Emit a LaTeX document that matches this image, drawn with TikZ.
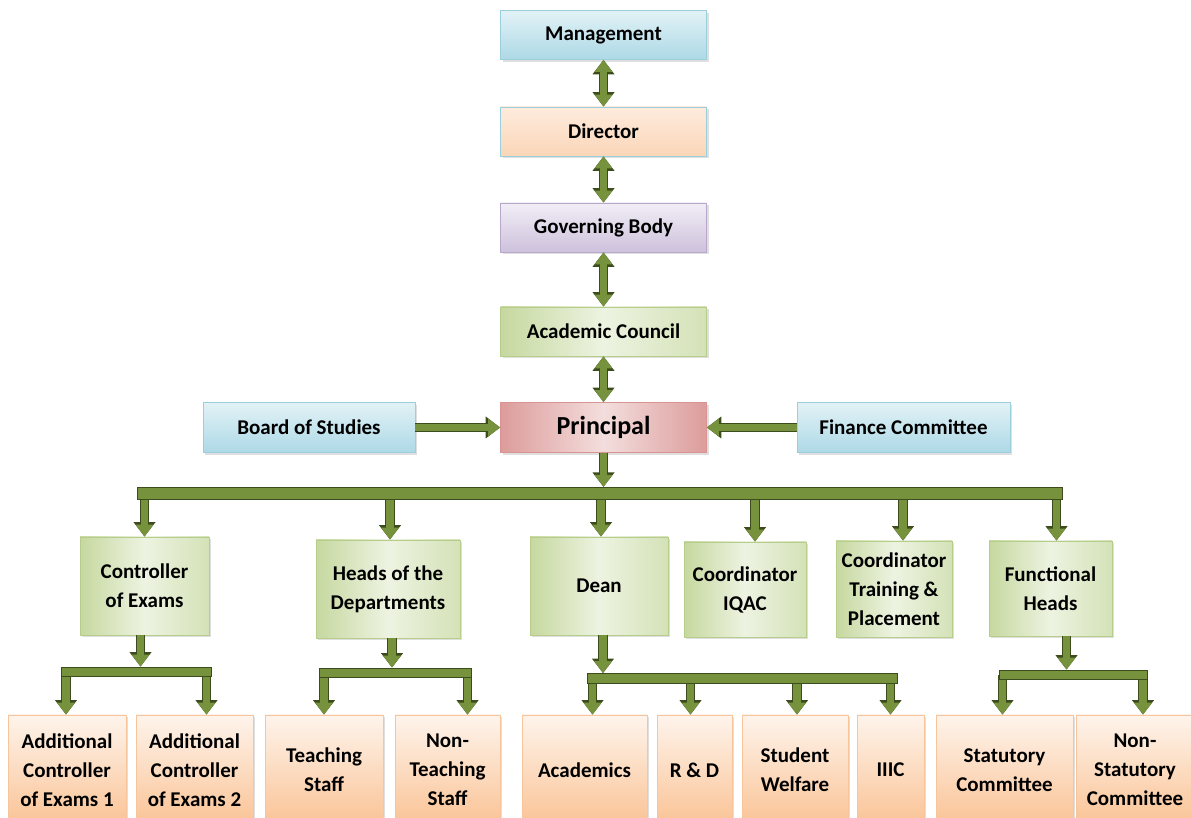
\documentclass[tikz,border=0pt]{standalone}
\usepackage{fontspec}
\setmainfont{Carlito}
\usetikzlibrary{arrows.meta, shadows}

\definecolor{skytop}{HTML}{E2F2F6}
\definecolor{skybot}{HTML}{ADD9E6}
\definecolor{skyedge}{HTML}{9CCFDC}
\definecolor{peachtop}{HTML}{FDEBDD}
\definecolor{peachbot}{HTML}{FBD6B8}
\definecolor{lilactop}{HTML}{F2EEF6}
\definecolor{lilacbot}{HTML}{CDC1DC}
\definecolor{lilacedge}{HTML}{B8A9CC}
\definecolor{leafdark}{HTML}{C6D89F}
\definecolor{leafmid}{HTML}{D4E2B7}
\definecolor{leaflight}{HTML}{EDF3E1}
\definecolor{leafedge}{HTML}{B7CD8C}
\definecolor{rosedark}{HTML}{DC9C9B}
\definecolor{roselight}{HTML}{F3DEDD}
\definecolor{roseedge}{HTML}{D79492}
\definecolor{stafftop}{HTML}{FEF4EC}
\definecolor{staffbot}{HTML}{FAC395}
\definecolor{staffedge}{HTML}{F6C59C}
\definecolor{linkgreen}{HTML}{76923C}
\definecolor{linkdark}{HTML}{3C4C1C}

\tikzset{
  box/.style={rectangle, align=center, inner sep=2pt,
    font=\bfseries\fontsize{10.5}{14.5}\selectfont,
    drop shadow={shadow xshift=1pt, shadow yshift=-1.2pt, opacity=0.25}},
  skybox/.style={box, draw=skyedge, top color=skytop, bottom color=skybot},
  peachbox/.style={box, draw=skyedge, top color=peachtop, bottom color=peachbot},
  lilacbox/.style={box, draw=lilacedge, top color=lilactop, bottom color=lilacbot},
  leafbox/.style={box, draw=leafedge, left color=leafdark, right color=leafmid, middle color=leaflight},
  rosebox/.style={box, draw=roseedge, left color=rosedark, right color=rosedark, middle color=roselight},
  staffbox/.style={box, draw=staffedge, top color=stafftop, bottom color=staffbot, minimum height=55pt},
  link/.style={line width=3.6pt, linkgreen, -{Triangle[width=8.5pt,length=6pt]},
    preaction={draw=linkdark, line width=4.6pt, -{Triangle[width=10.5pt,length=7.2pt]}}},
  twoway/.style={line width=3.6pt, linkgreen, {Triangle[width=8.5pt,length=6pt]}-{Triangle[width=8.5pt,length=6pt]},
    preaction={draw=linkdark, line width=4.6pt, {Triangle[width=10.5pt,length=7.2pt]}-{Triangle[width=10.5pt,length=7.2pt]}}},
  bar/.style={line width=#1, linkgreen,
    preaction={draw=linkdark, line width=#1+1pt, shorten <=-0.5pt, shorten >=-0.5pt}},
  bar/.default=4.4pt
}

\begin{document}
\begin{tikzpicture}[x=0.5pt, y=-0.5pt]

\fill[white] (0,0) rectangle (1191,818);
\useasboundingbox (0,0) rectangle (1191,818);

% Top chain
\node[skybox, minimum width=103pt, minimum height=24.5pt] (mgmt) at (603.5,35) {Management};
\node[peachbox, minimum width=103pt, minimum height=24.5pt] (director) at (603.5,131.5) {Director};
\node[lilacbox, minimum width=103pt, minimum height=24.5pt] (gov) at (603.5,227.5) {Governing Body};
\node[leafbox, minimum width=103pt, minimum height=24.5pt] (council) at (603.5,331.5) {Academic Council};
\node[rosebox, minimum width=103pt, minimum height=25pt, font=\bfseries\fontsize{13}{15}\selectfont] (principal) at (603.5,427.5) {Principal};

\draw[twoway] (mgmt) -- (director);
\draw[twoway] (director) -- (gov);
\draw[twoway] (gov) -- (council);
\draw[twoway] (council) -- (principal);

% Side bodies
\node[skybox, minimum width=106pt, minimum height=25pt] (studies) at (309,427.5) {Board of Studies};
\node[skybox, minimum width=106.5pt, minimum height=25pt] (finance) at (903.5,427.5) {Finance Committee};

\draw[link] (studies) -- (principal);
\draw[link] (finance) -- (principal);

% Second level
\node[leafbox, minimum width=64.5pt, minimum height=49pt] (exams) at (144.5,586) {Controller\\of Exams};
\node[leafbox, minimum width=72pt, minimum height=49pt] (hods) at (388,589) {Heads of the\\Departments};
\node[leafbox, minimum width=69pt, minimum height=49pt] (dean) at (599,586) {Dean};
\node[leafbox, minimum width=61pt, minimum height=47.5pt] (iqac) at (745,589.5) {Coordinator\\IQAC};
\node[leafbox, minimum width=58pt, minimum height=48pt] (placement) at (894,589) {Coordinator\\Training \&\\Placement};
\node[leafbox, minimum width=61.5pt, minimum height=47.5pt] (fheads) at (1050.5,588.5) {Functional\\Heads};

\coordinate (mainL) at (138,493.5);
\coordinate (mainR) at (1062,493.5);

\draw[link, shorten >=3.3pt] (principal) -- (principal |- mainL);
\foreach \n/\dx in {exams/0, hods/1, dean/1, iqac/5, placement/4.5, fheads/3}
  \draw[link] ([xshift=\dx pt]\n.north |- mainL) -- ([xshift=\dx pt]\n.north);
\draw[bar=5.6pt] (mainL) -- (mainR);

% Third level
\node[staffbox, minimum width=59pt] (addl1) at (67,770) {Additional\\Controller\\of Exams 1};
\node[staffbox, minimum width=58.5pt] (addl2) at (194.5,770) {Additional\\Controller\\of Exams 2};
\node[staffbox, minimum width=59pt] (teach) at (324,770) {Teaching\\Staff};
\node[staffbox, minimum width=52.5pt] (nonteach) at (447.5,770) {Non-\\Teaching\\Staff};
\node[staffbox, minimum width=62.5pt] (acad) at (584.5,770) {Academics};
\node[staffbox, minimum width=37.5pt] (rnd) at (694.5,770) {R \& D};
\node[staffbox, minimum width=53pt] (welfare) at (795,770) {Student\\Welfare};
\node[staffbox, minimum width=33.5pt] (iiic) at (890.5,770) {IIIC};
\node[staffbox, minimum width=68.5pt] (statutory) at (1004.5,770) {Statutory\\Committee};
\node[staffbox, minimum width=59pt] (nonstat) at (1135,770) {Non-\\Statutory\\Committee};

\coordinate (examsL) at (62,672);   \coordinate (examsR) at (211,672);
\coordinate (hodsL) at (320,673);   \coordinate (hodsR) at (471,673);
\coordinate (deanL) at (588,678.5); \coordinate (deanR) at (897,678.5);
\coordinate (fheadsL) at (1000,675); \coordinate (fheadsR) at (1147,675);

\draw[link, shorten >=2.7pt] ([xshift=-2pt]exams.south) -- ([xshift=-2pt]exams.south |- examsL);
\draw[link, shorten >=2.7pt] ([xshift=2pt]hods.south) -- ([xshift=2pt]hods.south |- hodsL);
\draw[link, shorten >=2.7pt] ([xshift=2pt]dean.south) -- ([xshift=2pt]dean.south |- deanL);
\draw[link, shorten >=2.7pt] ([xshift=8pt]fheads.south) -- ([xshift=8pt]fheads.south |- fheadsL);

\foreach \n/\dx in {addl1/-0.5, addl2/6}
  \draw[link] ([xshift=\dx pt]\n.north |- examsL) -- ([xshift=\dx pt]\n.north);
\foreach \n/\dx in {teach/0, nonteach/10}
  \draw[link] ([xshift=\dx pt]\n.north |- hodsL) -- ([xshift=\dx pt]\n.north);
\foreach \n/\dx in {acad/4, rnd/-2, welfare/1, iiic/0}
  \draw[link] ([xshift=\dx pt]\n.north |- deanL) -- ([xshift=\dx pt]\n.north);
\foreach \n/\dx in {statutory/-1, nonstat/4}
  \draw[link] ([xshift=\dx pt]\n.north |- fheadsL) -- ([xshift=\dx pt]\n.north);

\draw[bar] (examsL) -- (examsR);
\draw[bar] (hodsL) -- (hodsR);
\draw[bar] (deanL) -- (deanR);
\draw[bar] (fheadsL) -- (fheadsR);

\end{tikzpicture}
\end{document}
